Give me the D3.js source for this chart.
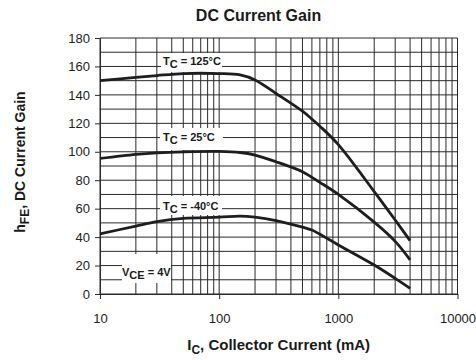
<!DOCTYPE html>
<html>
<head>
<meta charset="utf-8">
<script src="https://cdn.jsdelivr.net/npm/d3@7"></script>
<style>
  body { margin: 0; background: #fff; }
  text { font-family: "Liberation Sans", Arial, sans-serif; }
</style>
</head>
<body>
<svg id="chart"></svg>
<script>
// collector current (mA) and hFE
const currents = [10, 20, 30, 50, 100, 150, 200, 300, 500, 600, 700, 1000, 2000, 3000, 4000];
const gain125 = [150, 152.3, 153.6, 155, 155, 154, 150.5, 141, 128.5, 123, 118, 105, 72, 52, 37.5];
const gain25 = [95.3, 98.2, 99.3, 100, 100.3, 99.5, 97.7, 93, 86, 82, 78.5, 70, 50.5, 37, 24];
const gainMinus40 = [42.2, 47.8, 50.9, 53.2, 54, 54.8, 54, 51.6, 47, 45, 42, 34.5, 20.4, 11, 4];
const yTicks = [0, 20, 40, 60, 80, 100, 120, 140, 160, 180];
const xTicks = [10, 100, 1000, 10000];
const curveNames = ["125°C", "25°C", "-40°C"];

const width = 476,
  height = 360;

const x = d3.scaleLog()
  .domain([10, 10000])
  .range([100, 457.5]);
const y = d3.scaleLinear()
  .domain([0, 180])
  .range([294, 38]);

let chart = d3.select("#chart")
  .attr("width", width)
  .attr("height", height);

// grid: every 10 on y, 1..9 per decade on x
let vLines = [];
[10, 100, 1000].forEach(d => {
  for (let k = 1; k < 10; k++) vLines.push(d * k);
});
vLines.push(10000);

let grid = chart.append("g")
  .attr("stroke", "#2a2a2a")
  .attr("stroke-width", 1);
grid.selectAll(".v")
  .data(vLines)
  .enter().append("line")
  .attr("x1", d => x(d)).attr("x2", d => x(d))
  .attr("y1", y(0)).attr("y2", y(180));
grid.selectAll(".h")
  .data(d3.range(0, 181, 10))
  .enter().append("line")
  .attr("x1", x(10)).attr("x2", x(10000))
  .attr("y1", d => y(d)).attr("y2", d => y(d));

// white label boxes break the grid
const boxes = [
  [161, 53, 61, 19],
  [160, 128, 63, 22],
  [160, 196, 62, 19],
  [122, 254, 49, 29]
];
chart.append("g").selectAll("rect")
  .data(boxes)
  .enter().append("rect")
  .attr("x", d => d[0]).attr("y", d => d[1])
  .attr("width", d => d[2]).attr("height", d => d[3])
  .attr("fill", "#fff");

// axes
let yAxis = chart.append("g")
  .attr("transform", `translate(${x(10)},0)`)
  .call(d3.axisLeft(y).tickValues(yTicks).tickSize(5).tickSizeOuter(0).tickPadding(5));
let xAxis = chart.append("g")
  .attr("transform", `translate(0,${y(0)})`)
  .call(d3.axisBottom(x).tickValues(xTicks).tickFormat(d3.format("d")).tickSize(5).tickSizeOuter(0));
[yAxis, xAxis].forEach(a => {
  a.selectAll("path, line").attr("stroke", "#2a2a2a");
  a.selectAll("text")
    .attr("fill", "#222")
    .style("font-size", "13px");
});
xAxis.selectAll("text").attr("y", 20);

// curves
let line = d3.line()
  .x((d, i) => x(currents[i]))
  .y(d => y(d))
  .curve(d3.curveCatmullRom.alpha(0.5));
chart.append("g").selectAll("path")
  .data([gain125, gain25, gainMinus40])
  .enter().append("path")
  .attr("d", d => line(d))
  .attr("fill", "none")
  .attr("stroke", "#1e1e1e")
  .attr("stroke-width", 2.8)
  .attr("stroke-linejoin", "round");

// curve labels
function subLabel(g, px, py, main, sub, rest, size) {
  let t = g.append("text")
    .attr("x", px).attr("y", py)
    .attr("fill", "#1a1a1a")
    .style("font-size", size + "px")
    .style("font-weight", "bold");
  t.append("tspan").text(main);
  t.append("tspan").attr("dy", 3).text(sub);
  t.append("tspan").attr("dy", -3).text(rest);
  return t;
}
let labels = chart.append("g");
const labelY = [65, 141, 210];
curveNames.forEach((n, i) => subLabel(labels, 163, labelY[i], "T", "C", " = " + n, 11));
subLabel(labels, 122, 276, "V", "CE", " = 4V", 11);

// titles
chart.append("text")
  .attr("x", 258.5).attr("y", 21)
  .attr("text-anchor", "middle")
  .attr("fill", "#1a1a1a")
  .style("font-size", "16px")
  .style("font-weight", "bold")
  .text("DC Current Gain");

let xt = chart.append("text")
  .attr("x", 278.7).attr("y", 350)
  .attr("text-anchor", "middle")
  .attr("fill", "#1a1a1a")
  .style("font-size", "15px")
  .style("font-weight", "bold");
xt.append("tspan").text("I");
xt.append("tspan").attr("dy", 4).style("font-size", "12px").text("C");
xt.append("tspan").attr("dy", -4).text(", Collector Current (mA)");

let yt = chart.append("text")
  .attr("transform", "translate(25,162) rotate(-90)")
  .attr("text-anchor", "middle")
  .attr("fill", "#1a1a1a")
  .style("font-size", "14px")
  .style("font-weight", "bold");
yt.append("tspan").text("h");
yt.append("tspan").attr("dy", 4).style("font-size", "12px").text("FE");
yt.append("tspan").attr("dy", -4).text(", DC Current Gain");
</script>
</body>
</html>
